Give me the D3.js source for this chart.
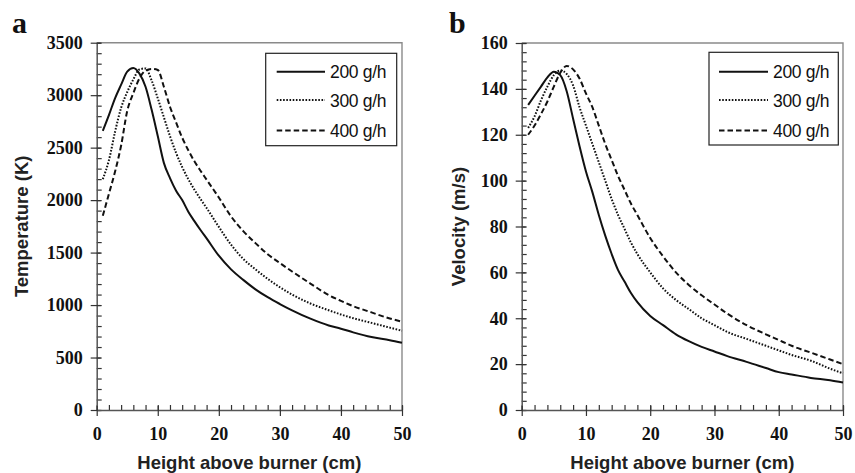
<!DOCTYPE html>
<html><head><meta charset="utf-8">
<script src="https://cdn.jsdelivr.net/npm/d3@7"></script>
<style>body{margin:0;background:#fff}svg{display:block}</style>
</head><body>
<svg id="c" width="855" height="473"></svg>
<script>
// ---- data ----
const seriesNames = ["200 g/h", "300 g/h", "400 g/h"];
const heights = [1,2,3,4,5,6,7,8,9,10,11,12,13,14,15,16,17,18,20,22,24,26,28,30,32,35,38,40,42,45,48,50];

const temp200 = [2660,2810,2970,3100,3225,3258,3205,3080,2860,2610,2355,2210,2090,2000,1890,1800,1715,1635,1470,1340,1240,1150,1075,1010,950,870,805,775,740,695,665,640];
const temp300 = [2200,2380,2650,2880,3030,3150,3245,3255,3140,2970,2790,2610,2450,2315,2200,2100,2010,1925,1745,1575,1440,1340,1250,1170,1100,1015,950,910,875,830,785,755];
const temp400 = [1850,2060,2270,2520,2850,3020,3160,3235,3250,3240,3080,2890,2740,2595,2475,2370,2280,2195,2025,1845,1705,1590,1485,1400,1320,1205,1095,1040,990,930,872,842];

const vel200 = [133,137,141,145,147.5,146,139,127,115,104,95,85,76,68,61,56,51,47,41,37,33,30,27.5,25.5,23.5,21,18.3,16.5,15.5,14,13,12];
const vel300 = [123,128,135,141,146,148,146.5,141.5,132,124,116,108,100,92,85,79,73,68,60,53,48,44,40,37,34,31,28,26,24,21.5,18,16];
const vel400 = [120,124,129,134.5,141,147,150,148.5,144.5,138,132,124,116,109,102,96,90,85,75,67,60,54.5,50,46,42,37,33,30.5,28,25,22,20];

const xTicks = [0,10,20,30,40,50];
const xMinorTicks = [0,2,4,6,8,10,12,14,16,18,20,22,24,26,28,30,32,34,36,38,40,42,44,46,48,50];
const tempTicks = [0,500,1000,1500,2000,2500,3000,3500];
const velTicks = [0,20,40,60,80,100,120,140,160];

const panelLetters = ["a","b"];
const xTitle = "Height above burner (cm)";
const yTitles = ["Temperature (K)", "Velocity (m/s)"];

// ---- drawing ----
const svg = d3.select("#c");
const dashes = [null, "1.6 1.6", "5.5 3"];
const widths = [2, 2, 2];

function drawPanel(o) {
  const g = svg.append("g");
  const x = d3.scaleLinear().domain([0,50]).range([o.left, o.right]);
  const y = d3.scaleLinear().domain([0, o.ymax]).range([o.bottom, o.top]);

  // frame top/right
  g.append("path").attr("d", `M${o.left},${o.top}H${o.right}V${o.bottom}`)
    .attr("fill","none").attr("stroke","#8a8a8a").attr("stroke-width",1.4);

  // minor ticks (inside) via axes with empty labels
  const yMinor = d3.range(0, o.ymax + 1e-9, o.yMinorStep);
  const ym = g.append("g").attr("transform", `translate(${o.left},0)`)
    .call(d3.axisRight(y).tickValues(yMinor).tickSize(5).tickFormat(""));
  const xm = g.append("g").attr("transform", `translate(0,${o.bottom})`)
    .call(d3.axisTop(x).tickValues(xMinorTicks).tickSize(5).tickFormat(""));
  [ym, xm].forEach(a => {
    a.select(".domain").remove();
    a.selectAll(".tick line").attr("stroke","#333").attr("stroke-width",1.2);
  });

  // axes
  const fmt = d3.format("d");
  const yAxis = d3.axisLeft(y).tickValues(o.yTicks).tickFormat(fmt).tickSizeInner(6).tickSizeOuter(0).tickPadding(8);
  const ya = g.append("g").attr("transform", `translate(${o.left},0)`).call(yAxis);
  const xAxis = d3.axisBottom(x).tickValues(xTicks).tickFormat(fmt).tickSizeInner(6).tickSizeOuter(0).tickPadding(11);
  const xa = g.append("g").attr("transform", `translate(0,${o.bottom})`).call(xAxis);
  [ya, xa].forEach(a => {
    a.select(".domain").attr("stroke","#555").attr("stroke-width",1.5);
    a.selectAll(".tick line").attr("stroke","#333").attr("stroke-width",1.2);
    a.selectAll("text").attr("font-family","'Liberation Serif','Times New Roman',serif")
      .attr("font-weight","bold").attr("font-size", 18).attr("fill","#111");
  });
  ya.selectAll(".tick line").attr("x2", 4).attr("x1", -6);
  xa.selectAll(".tick line").attr("y1", -4).attr("y2", 6);

  // lines
  const line = d3.line().x((d,i) => x(heights[i])).y(d => y(d)).curve(d3.curveMonotoneX);
  o.series.forEach((s, k) => {
    g.append("path").attr("d", line(s)).attr("fill","none")
      .attr("stroke","#111").attr("stroke-width", widths[k])
      .attr("stroke-dasharray", dashes[k]);
  });

  // legend
  const L = o.legend;
  g.append("rect").attr("x", L.x).attr("y", L.y).attr("width", L.w).attr("height", L.h)
    .attr("fill","#fff").attr("stroke","#222").attr("stroke-width",1.2);
  const rows = [71.7, 100, 130.5];
  seriesNames.forEach((n, k) => {
    g.append("line").attr("x1", L.lx1).attr("x2", L.lx2).attr("y1", rows[k]).attr("y2", rows[k])
      .attr("stroke","#111").attr("stroke-width", widths[k]).attr("stroke-dasharray", dashes[k]);
    g.append("text").attr("x", L.tx).attr("y", rows[k] + 6.5).text(n)
      .attr("font-family","Arial,'Liberation Sans',sans-serif").attr("font-size",17.5)
      .attr("letter-spacing","-0.3").attr("fill","#111");
  });

  // titles
  g.append("text").attr("x", (o.left + o.right)/2).attr("y", 469).attr("text-anchor","middle")
    .text(xTitle).attr("font-family","Arial,'Liberation Sans',sans-serif")
    .attr("font-weight","bold").attr("font-size",18.5).attr("fill","#222");
  g.append("text").attr("transform", `translate(${o.ytx},${(o.top+o.bottom)/2}) rotate(-90)`)
    .attr("text-anchor","middle").text(o.yTitle)
    .attr("font-family","Arial,'Liberation Sans',sans-serif")
    .attr("font-weight","bold").attr("font-size",18.5).attr("fill","#222");
  g.append("text").attr("x", o.lx).attr("y", 33).text(o.letter)
    .attr("font-family","'Liberation Serif','Times New Roman',serif")
    .attr("font-weight","bold").attr("font-size",30).attr("fill","#111");
}

drawPanel({left:96.7, right:402, top:42.7, bottom:410, ymax:3500, yTicks:tempTicks, yMinorStep:100,
  series:[temp200, temp300, temp400], yTitle:yTitles[0], ytx:28, letter:panelLetters[0], lx:12,
  legend:{x:265.7, y:53.3, w:131, h:92.4, lx1:276.7, lx2:325, tx:330}});
drawPanel({left:521.7, right:843, top:43, bottom:410, ymax:160, yTicks:velTicks, yMinorStep:4,
  series:[vel200, vel300, vel400], yTitle:yTitles[1], ytx:465, letter:panelLetters[1], lx:449,
  legend:{x:709, y:52.3, w:129.3, h:92.7, lx1:719, lx2:768, tx:773}});
</script>
</body></html>
